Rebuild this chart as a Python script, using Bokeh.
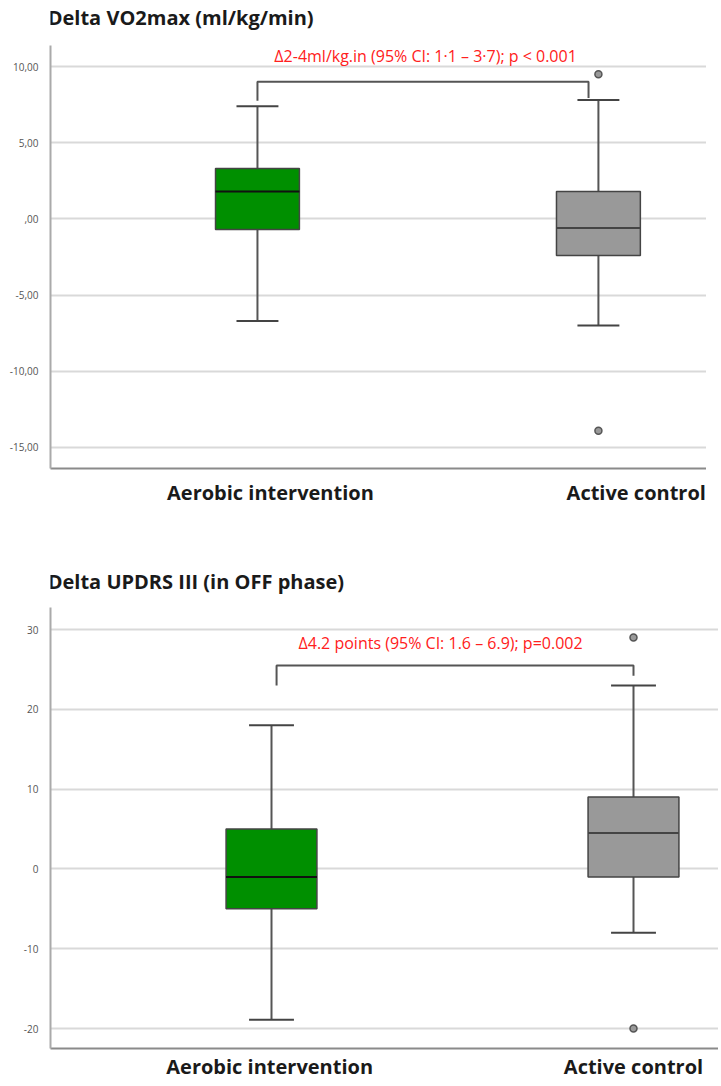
from bokeh.plotting import figure
from bokeh.layouts import column
from bokeh.models import Range1d, FixedTicker, Label
from bokeh.core.properties import value
from bokeh.embed import file_html
from bokeh.resources import INLINE

# ---------------- data ----------------
categories = ["Aerobic intervention", "Active control"]

# Panel 1: Delta VO2max (ml/kg/min)
vo2_title = "Delta VO2max (ml/kg/min)"
vo2_q1 = [-0.7, -2.4]
vo2_median = [1.8, -0.6]
vo2_q3 = [3.3, 1.8]
vo2_low = [-6.7, -7.0]
vo2_high = [7.4, 7.8]
vo2_outlier_group = [1, 1]
vo2_outlier_value = [9.5, -13.9]
vo2_ticks = [10, 5, 0, -5, -10, -15]
vo2_tick_labels = ["10,00", "5,00", ",00", "-5,00", "-10,00", "-15,00"]
vo2_note = "\u03942-4ml/kg.in (95% CI: 1\u00b71 \u2013 3\u00b77); p < 0.001"

# Panel 2: Delta UPDRS III (in OFF phase)
updrs_title = "Delta UPDRS III (in OFF phase)"
updrs_q1 = [-5.0, -1.0]
updrs_median = [-1.0, 4.5]
updrs_q3 = [5.0, 9.0]
updrs_low = [-18.9, -8.0]
updrs_high = [18.0, 23.0]
updrs_outlier_group = [1, 1]
updrs_outlier_value = [29.0, -20.0]
updrs_ticks = [30, 20, 10, 0, -10, -20]
updrs_tick_labels = ["30", "20", "10", "0", "-10", "-20"]
updrs_note = "\u03944.2 points (95% CI: 1.6 \u2013 6.9); p=0.002"

FILLS = ["#008f00", "#999999"]
MEDIAN_COLORS = ["#111111", "#444444"]
FONT = "Open Sans"
RED = "#ff2020"


def title_strip(text, width, height, baseline_from_top, x_left):
    t = figure(width=width, height=height, output_backend="svg", toolbar_location=None,
               x_range=Range1d(0, width), y_range=Range1d(0, height),
               x_axis_location=None, y_axis_location=None, title_location=None,
               min_border=0, min_border_left=0, min_border_right=0,
               min_border_top=0, min_border_bottom=0)
    t.grid.visible = False
    t.outline_line_color = None
    t.text(x=[x_left], y=[height - baseline_from_top], text=[text],
           text_font=value(FONT), text_font_style="bold", text_font_size="20px",
           text_color="#1a1a1a", text_align="left", text_baseline="alphabetic")
    return t


def make_panel(q1, med, q3, lo, hi, og, ov, ticks, tlabels,
               xr, yr, label_pos, box_w, cap_w, width, height,
               border_bottom, label_standoff, bracket, note, note_xy):
    p = figure(width=width, height=height, output_backend="svg",
               toolbar_location=None, x_range=Range1d(*xr), y_range=Range1d(*yr),
               min_border_left=50, min_border_right=0,
               min_border_top=0, min_border_bottom=border_bottom, title_location=None)
    p.outline_line_color = None
    p.background_fill_color = "white"
    p.border_fill_color = "white"

    # x axis
    p.xaxis.ticker = FixedTicker(ticks=label_pos)
    p.xaxis.major_label_overrides = {lp: c for lp, c in zip(label_pos, categories)}
    p.xaxis.major_label_text_font = FONT
    p.xaxis.major_label_text_font_style = "bold"
    p.xaxis.major_label_text_font_size = "20px"
    p.xaxis.major_label_text_color = "#1a1a1a"
    p.xaxis.major_label_standoff = label_standoff
    p.xaxis.major_tick_line_color = None
    p.xaxis.major_tick_out = 0
    p.xaxis.major_tick_in = 0
    p.xaxis.minor_tick_line_color = None
    p.xaxis.axis_line_color = "#8a8a8a"
    p.xaxis.axis_line_width = 2
    p.xgrid.grid_line_color = None

    # y axis
    p.yaxis.ticker = FixedTicker(ticks=ticks)
    p.yaxis.major_label_overrides = {t: l for t, l in zip(ticks, tlabels)}
    p.yaxis.major_label_text_font = FONT
    p.yaxis.major_label_text_font_size = "10px"
    p.yaxis.major_label_text_color = "#555555"
    p.yaxis.major_label_standoff = 6
    p.yaxis.major_tick_line_color = None
    p.yaxis.minor_tick_line_color = None
    p.yaxis.axis_line_color = "#aaaaaa"
    p.yaxis.axis_line_width = 2
    p.ygrid.grid_line_color = "#d9d9d9"
    p.ygrid.grid_line_width = 2

    xs = [1, 2]
    # whiskers
    p.segment(x0=xs, y0=q3, x1=xs, y1=hi, line_color="#555555", line_width=2)
    p.segment(x0=xs, y0=q1, x1=xs, y1=lo, line_color="#555555", line_width=2)
    p.segment(x0=[x - cap_w / 2 for x in xs], y0=hi, x1=[x + cap_w / 2 for x in xs], y1=hi,
              line_color="#444444", line_width=2)
    p.segment(x0=[x - cap_w / 2 for x in xs], y0=lo, x1=[x + cap_w / 2 for x in xs], y1=lo,
              line_color="#444444", line_width=2)
    # boxes
    p.vbar(x=xs, width=box_w, bottom=q1, top=q3, fill_color=FILLS,
           line_color="#444444", line_width=1.5)
    p.segment(x0=[x - box_w / 2 for x in xs], y0=med, x1=[x + box_w / 2 for x in xs], y1=med,
              line_color=MEDIAN_COLORS, line_width=2)
    # outliers
    p.scatter(x=[xs[g] for g in og], y=ov, size=7, fill_color="#999999",
              line_color="#555555", line_width=1.5)

    # bracket
    bx0, bx1, by, byl, byr = bracket
    p.line(x=[bx0, bx0, bx1, bx1], y=[byl, by, by, byr], line_color="#555555", line_width=2)
    p.add_layout(Label(x=note_xy[0], y=note_xy[1], text=note, text_color=RED,
                       text_font=FONT, text_font_size="16px",
                       text_align="center", text_baseline="middle"))
    return p


t1 = title_strip(vo2_title, 706, 45, 17, -3)
p1 = make_panel(vo2_q1, vo2_median, vo2_q3, vo2_low, vo2_high,
                vo2_outlier_group, vo2_outlier_value, vo2_ticks, vo2_tick_labels,
                xr=(0.393, 2.317), yr=(-16.38, 11.38), label_pos=[1.038, 2.111],
                box_w=0.246, cap_w=0.123, width=706, height=485,
                border_bottom=62, label_standoff=10,
                bracket=(1.0, 1.971, 9.0, 7.76, 7.94), note=vo2_note, note_xy=(1.493, 10.72))

t2 = title_strip(updrs_title, 718, 77, 51, -3)
p2 = make_panel(updrs_q1, updrs_median, updrs_q3,
                updrs_low, updrs_high, updrs_outlier_group, updrs_outlier_value,
                updrs_ticks, updrs_tick_labels,
                xr=(0.3895, 2.2348), yr=(-22.5, 32.76), label_pos=[0.995, 2.0],
                box_w=0.251, cap_w=0.124, width=718, height=479,
                border_bottom=38, label_standoff=4,
                bracket=(1.014, 2.0, 25.5, 23.0, 24.2), note=updrs_note, note_xy=(1.467, 28.25))

layout = column(t1, p1, t2, p2, spacing=0)
open("out.html", "w").write(file_html(layout, INLINE))
